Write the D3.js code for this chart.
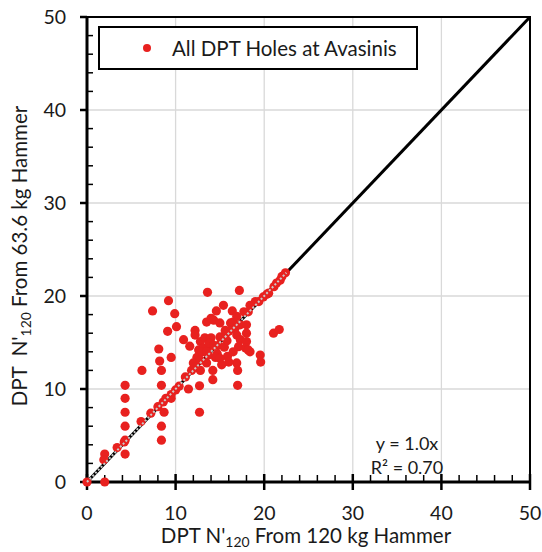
<!DOCTYPE html>
<html><head><meta charset="utf-8">
<script src="https://cdn.jsdelivr.net/npm/d3@7"></script>
<style>body{margin:0;background:#fff}svg{display:block}text{font-family:Lato,"Open Sans",sans-serif;fill:#1a1a1a;white-space:pre}</style>
</head><body><svg id="c" width="542" height="552"></svg>
<script>
const xTicks=[0,10,20,30,40,50];
const yTicks=[0,10,20,30,40,50];
const minorTicks=d3.range(0,51,2);
const seriesName="All DPT Holes at Avasinis";
const xTitle=["DPT N'","120"," From 120 kg Hammer"];
const yTitle=["DPT  N'","120"," From 63.6 kg Hammer"];
const eqLines=["y = 1.0x","R² = 0.70"];
const xVals=[0,2.0,2.0,4.3,4.3,4.3,4.3,4.3,4.3,8.1,8.2,8.4,8.4,8.4,8.4,6.2,7.4,9.2,9.9,10.1,9.1,9.5,13.6,17.2,14.6,15.4,16.4,13.5,14.0,14.3,15.0,16.2,16.5,17.3,18.0,12.2,12.2,10.9,11.6,12.8,13.3,13.9,12.6,13.15,14.1,14.85,15.6,16.0,16.7,16.9,17.3,18.0,18.0,17.1,17.9,18.4,19.55,19.6,16.9,17.0,15.85,16.0,14.7,14.5,11.45,12.7,12.7,14.2,14.2,17.0,21.05,21.7,12.4,12.0,12.8,13.5,13.7,15.0,15.2,18.2,13.0,14.0,15.5,16.5,13.8,15.8,
1.9,3.4,4.2,6.1,7.2,8.0,8.6,8.7,8.9,9.5,9.5,10.0,10.4,11.1,11.8,12.2,12.8,13.5,14.3,15.0,15.6,16.9,17.7,18.2,18.4,19.0,19.4,19.9,20.3,20.5,21.1,21.4,21.8,22.0,22.4];
const yVals=[0,0,3.0,10.4,9.0,7.5,6.0,4.5,3.0,14.3,13.0,12.0,10.4,6.0,4.5,12.0,18.4,19.5,18.1,16.7,16.2,13.4,20.4,20.6,18.4,19.0,18.4,17.2,17.6,17.4,17.1,17.1,17.2,16.9,16.9,16.3,15.8,15.3,14.6,15.1,15.5,15.3,14.2,14.4,14.6,14.7,15.8,16.2,16.5,15.8,15.3,15.1,16.0,14.55,14.4,14.0,13.65,12.9,12.8,12.0,13.5,12.9,13.8,13.4,10.0,10.35,7.5,12.0,11.0,10.4,16.0,16.4,13.4,12.8,12.0,12.8,13.65,13.3,12.6,14.2,14.0,15.5,14.5,14.0,14.9,15.2,
2.4,3.7,4.3,6.5,7.4,8.1,8.6,7.5,9.0,9.4,9.0,9.9,10.3,11.3,12.0,12.4,13.1,14.0,14.7,15.6,16.3,17.8,18.3,18.3,19.0,19.4,19.4,19.9,20.2,20.3,21.0,21.4,21.7,22.1,22.5];
const fitRange=[0,22.5];
const lineRange=[0,50];

const svg=d3.select("#c");
const x=d3.scaleLinear().domain([0,50]).range([87,530]);
const y=d3.scaleLinear().domain([0,50]).range([482,17]);
const red="#e8211f";

// grid
const g=svg.append("g");
g.selectAll("line.gx").data(xTicks.slice(1,-1)).join("line")
 .attr("x1",d=>x(d)).attr("x2",d=>x(d)).attr("y1",y(0)).attr("y2",y(50))
 .attr("stroke","#d9d9d9").attr("stroke-width",1.3);
g.selectAll("line.gy").data(yTicks.slice(1,-1)).join("line")
 .attr("y1",d=>y(d)).attr("y2",d=>y(d)).attr("x1",x(0)).attr("x2",x(50))
 .attr("stroke","#d9d9d9").attr("stroke-width",1.3);

// frame top/right
svg.append("path").attr("d",`M${x(0)},${y(50)}H${x(50)}V${y(0)}`).attr("fill","none").attr("stroke","#000").attr("stroke-width",2);

// minor ticks
svg.selectAll("line.mx").data(minorTicks.filter(d=>d%10!==0)).join("line")
 .attr("x1",d=>x(d)).attr("x2",d=>x(d)).attr("y1",y(0)).attr("y2",y(0)-7).attr("stroke","#000").attr("stroke-width",1.5);
svg.selectAll("line.my").data(minorTicks.filter(d=>d%10!==0)).join("line")
 .attr("y1",d=>y(d)).attr("y2",d=>y(d)).attr("x1",x(0)).attr("x2",x(0)+6).attr("stroke","#000").attr("stroke-width",1.5);
// major ticks
svg.selectAll("line.Mx").data(xTicks).join("line")
 .attr("x1",d=>x(d)).attr("x2",d=>x(d)).attr("y1",y(0)-8).attr("y2",y(0)+8).attr("stroke","#000").attr("stroke-width",2.5);
svg.selectAll("line.My").data(yTicks).join("line")
 .attr("y1",d=>y(d)).attr("y2",d=>y(d)).attr("x1",x(0)-7).attr("x2",x(0)).attr("stroke","#000").attr("stroke-width",2.5);

// axes lines
svg.append("path").attr("d",`M${x(0)},${y(50)}V${y(0)}H${x(50)}`).attr("fill","none").attr("stroke","#000").attr("stroke-width",3);

// 1:1 line
svg.append("line").attr("x1",x(lineRange[0])).attr("y1",y(lineRange[0])).attr("x2",x(lineRange[1])).attr("y2",y(lineRange[1]))
 .attr("stroke","#000").attr("stroke-width",3);

// points
svg.append("g").selectAll("circle").data(xVals.map((v,i)=>[v,yVals[i]])).join("circle")
 .attr("cx",d=>x(d[0])).attr("cy",d=>y(d[1])).attr("r",4.6).attr("fill",red);

// trend dotted
svg.append("line").attr("x1",x(fitRange[0])).attr("y1",y(fitRange[0])).attr("x2",x(fitRange[1])).attr("y2",y(fitRange[1]))
 .attr("stroke","#c9c9c9").attr("stroke-width",2).attr("stroke-dasharray","2 2");

// tick labels
svg.selectAll("text.xl").data(xTicks).join("text").attr("x",d=>x(d)).attr("y",520)
 .attr("text-anchor","middle").style("font-size","19.5px").text(d=>d);
svg.selectAll("text.yl").data(yTicks).join("text").attr("x",66).attr("y",d=>y(d)+7)
 .attr("text-anchor","end").style("font-size","19.5px").text(d=>d);

function title(parts,sel,size){
  sel.style("font-size",size+"px");
  sel.append("tspan").text(parts[0]);
  sel.append("tspan").attr("dy",4).style("font-size",(size*0.68)+"px").text(parts[1]);
  sel.append("tspan").attr("dy",-4).text(parts[2]);
}
const xt=svg.append("text").attr("x",306).attr("y",543).attr("text-anchor","middle");
title(xTitle,xt,20.5);
const yt=svg.append("text").attr("transform","translate(27,256) rotate(-90)").attr("text-anchor","middle");
title(yTitle,yt,20.5);

// legend
svg.append("rect").attr("x",99).attr("y",27).attr("width",318).attr("height",42).attr("fill","#fff").attr("stroke","#000").attr("stroke-width",2);
svg.append("circle").attr("cx",147).attr("cy",48).attr("r",4).attr("fill",red);
svg.append("text").attr("x",172).attr("y",55.5).style("font-size","20.5px").text(seriesName);

// equation
svg.selectAll("text.eq").data(eqLines).join("text").attr("x",407).attr("y",(d,i)=>450+i*24)
 .attr("text-anchor","middle").style("font-size","18px").text(d=>d);
</script></body></html>
